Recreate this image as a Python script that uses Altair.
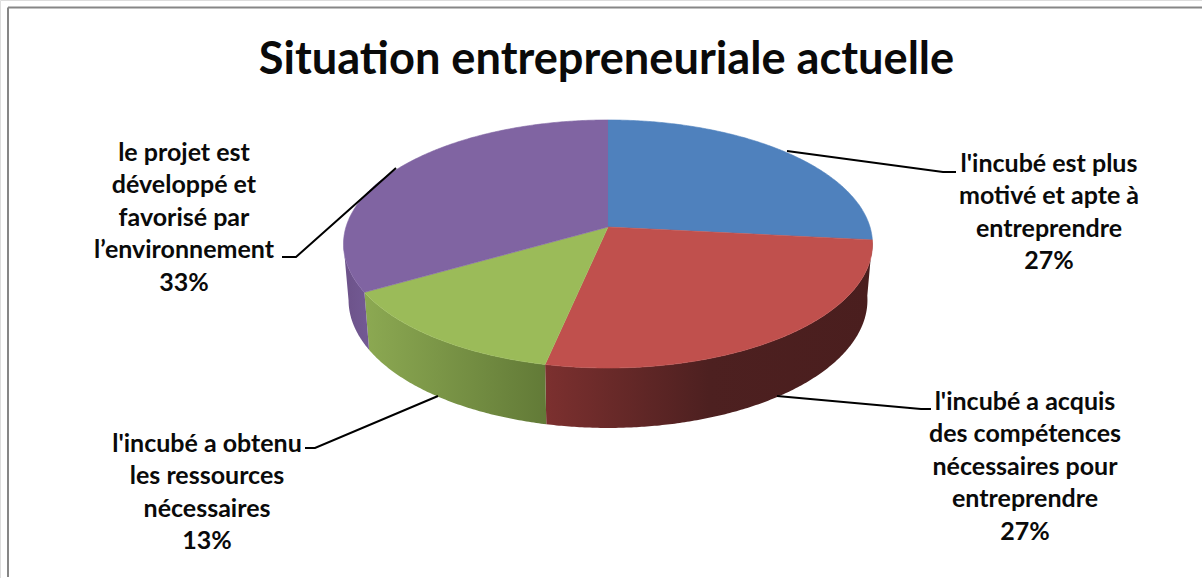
import math
import altair as alt
import pandas as pd

W, H = 1202, 578

# Pie content: respondent counts per situation
categories = [
    "l'incubé est plus motivé et apte à entreprendre",
    "l'incubé a acquis des compétences nécessaires pour entreprendre",
    "l'incubé a obtenu les ressources nécessaires",
    "le projet est développé et favorisé par l’environnement",
]
counts = [4, 4, 2, 5]
top_colors = ["#4F81BD", "#C0504D", "#9BBB59", "#8064A2"]
label_lines = [
    ["l'incubé est plus", "motivé et apte à", "entreprendre"],
    ["l'incubé a acquis", "des compétences", "nécessaires pour", "entreprendre"],
    ["l'incubé a obtenu", "les ressources", "nécessaires"],
    ["le projet est", "développé et", "favorisé par", "l’environnement"],
]
title_text = "Situation entrepreneuriale actuelle"

# Label placement (centre x, first line y) and leader polylines
label_anchor = [(1049, 163.5), (1025, 401.5), (207, 443.5), (184, 152.5)]
line_step = 32.6
leaders = [
    [(787, 151), (943, 172), (956, 172)],
    [(777, 396), (921, 409), (931, 409)],
    [(438, 396), (315, 448), (305, 448)],
    [(396, 168), (296, 257), (282, 257)],
]

# Perspective model of the disc: top face and bottom face
CX = 608
TOP = dict(a=262.0, b=121.7, cy=227.0, p=0.137)
BOTTOM = dict(a=257.0, b=125.6, cy=282.4, p=0.137)
WALL_LIMIT = (96.0, 262.0)  # visible part of the side, in degrees clockwise from north


def rim(deg, face):
    t = math.radians(deg)
    s, c = math.sin(t), math.cos(t)
    w = 1 + face["p"] * c
    return CX + face["a"] * s / w, face["cy"] - face["b"] * c / w


def sweep(a0, a1):
    n = max(2, int(abs(a1 - a0)) * 2)
    return [a0 + (a1 - a0) * i / n for i in range(n + 1)]


def polygon_chart(points, fill, stroke_width=0.0, stroke=None):
    frame = pd.DataFrame(points, columns=["px", "py"])
    frame["i"] = range(len(frame))
    kw = {"stroke": stroke} if stroke else {}
    return (
        alt.Chart(frame)
        .mark_line(fill=fill, strokeWidth=stroke_width, **kw)
        .encode(x=X, y=Y, order="i:Q")
    )


def h_gradient(*stops):
    return alt.LinearGradient(
        gradient="linear",
        x1=0, x2=1, y1=0, y2=0,
        stops=[alt.GradientStop(color=c, offset=o) for o, c in stops],
    )


X = alt.X("px:Q", scale=alt.Scale(domain=[0, W], nice=False, zero=False), axis=None)
Y = alt.Y("py:Q", scale=alt.Scale(domain=[H, 0], nice=False, zero=False), axis=None)

total = sum(counts)
edges = [0.0]
for v in counts:
    edges.append(edges[-1] + 360.0 * v / total)

layers = []

# Side wall, one shaded band per slice that faces the viewer
wall_fills = [
    None,
    h_gradient((0, "#7C302F"), (0.5, "#4D2020"), (1, "#4A1E1E")),
    h_gradient((0, "#8CA952"), (1, "#627A37")),
    h_gradient((0, "#6C5289"), (1, "#735A94")),
]
for i in range(1, len(counts)):
    a0 = max(edges[i], WALL_LIMIT[0])
    a1 = min(edges[i + 1], WALL_LIMIT[1])
    pts = [rim(a, TOP) for a in sweep(a0, a1)] + [rim(a, BOTTOM) for a in sweep(a1, a0)]
    layers.append(polygon_chart(pts, wall_fills[i]))

# Top face wedges
for i, color in enumerate(top_colors):
    pts = [(CX, TOP["cy"])] + [rim(a, TOP) for a in sweep(edges[i], edges[i + 1])]
    layers.append(polygon_chart(pts, color, 0.6, color))

# Leader lines
leader_rows = [
    {"px": x, "py": y, "k": k, "i": j}
    for k, path in enumerate(leaders)
    for j, (x, y) in enumerate(path)
]
layers.append(
    alt.Chart(pd.DataFrame(leader_rows))
    .mark_line(color="black", strokeWidth=2)
    .encode(x=X, y=Y, detail="k:N", order="i:Q")
)

# Data labels: category lines followed by the rounded share
text_rows = []
for k, lines in enumerate(label_lines):
    cx, y0 = label_anchor[k]
    share = f"{round(100 * counts[k] / total)}%"
    for j, line in enumerate(lines + [share]):
        text_rows.append({"px": cx, "py": y0 + j * line_step, "t": line})
layers.append(
    alt.Chart(pd.DataFrame(text_rows))
    .mark_text(font="Lato", fontWeight="bold", fontSize=25, color="#0A0A0A", align="center", baseline="middle")
    .encode(x=X, y=Y, text="t:N")
)

# Title
layers.append(
    alt.Chart(pd.DataFrame([{"px": 606.5, "py": 59.5, "t": title_text}]))
    .mark_text(font="Lato", fontWeight="bold", fontSize=45.2, color="#0A0A0A", align="center", baseline="middle")
    .encode(x=X, y=Y, text="t:N")
)

# Frame: only the top and left edges fall inside the canvas
frame_rows = [
    {"px": 8, "py": 7.5, "k": "top", "i": 0},
    {"px": W, "py": 7.5, "k": "top", "i": 1},
    {"px": 8, "py": 7.5, "k": "left", "i": 0},
    {"px": 8, "py": 577, "k": "left", "i": 1},
]
layers.append(
    alt.Chart(pd.DataFrame(frame_rows))
    .mark_line(color="#868686", strokeWidth=2)
    .encode(x=X, y=Y, detail="k:N", order="i:Q")
)

chart = (
    alt.layer(*layers)
    .properties(width=W, height=H, padding=0, autosize=alt.AutoSizeParams(type="none"))
    .configure_view(stroke=None)
    .configure(background="white")
)

chart.save("out.html", embed_options={"renderer": "svg", "actions": False})
